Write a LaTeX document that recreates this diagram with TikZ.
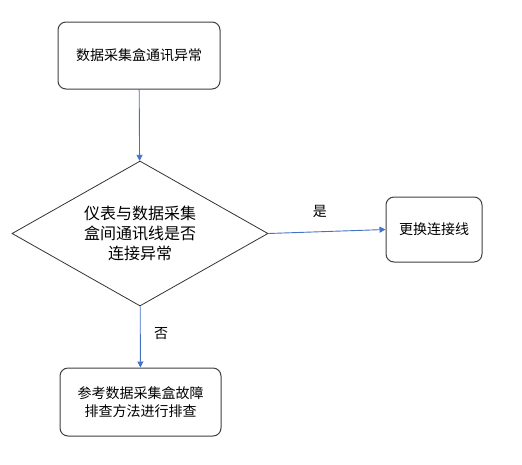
\documentclass[tikz,border=0pt]{standalone}
\usepackage{fontspec}
\setmainfont{Noto Sans CJK SC}
\usetikzlibrary{shapes.geometric,arrows.meta}
\definecolor{linkblue}{RGB}{68,114,196}

\begin{document}
\begin{tikzpicture}
	[	x=1pt,y=1pt,
	box/.style={rectangle,rounded corners=8pt,draw=black!75,line width=1pt,fill=white,align=center,font=\fontsize{14}{18}\selectfont},
	choice/.style={diamond,aspect=1.77,draw=black!80,line width=0.8pt,inner sep=0pt,align=center,font=\fontsize{16}{20}\selectfont},
	link/.style={draw=linkblue,line width=0.9pt,-{Triangle[length=6pt,width=6pt]}},
	tag/.style={font=\fontsize{14}{16}\selectfont}
	]
	\useasboundingbox (0,0) rectangle (522,-464);
	\node[box,minimum width=162pt,minimum height=67pt] (fault) at (139,-55.5){数据采集盒通讯异常};
	\node[choice,minimum width=256pt,minimum height=145pt] (check) at (140,-233.5){仪表与数据采集\\盒间通讯线是否\\连接异常};
	\node[box,minimum width=96pt,minimum height=65pt] (swap) at (434,-229.5){更换连接线};
	\node[box,minimum width=161pt,minimum height=68pt] (manual) at (140.5,-402){参考数据采集盒故障\\排查方法进行排查};

	\draw[link] (fault) -- (check);
	\draw[link] (check.east) -- node[tag,above=10pt,pos=0.44]{是} (swap.west);
	\draw[link] (check) -- node[tag,right=10pt,pos=0.45]{否} (manual);
\end{tikzpicture}
\end{document}
